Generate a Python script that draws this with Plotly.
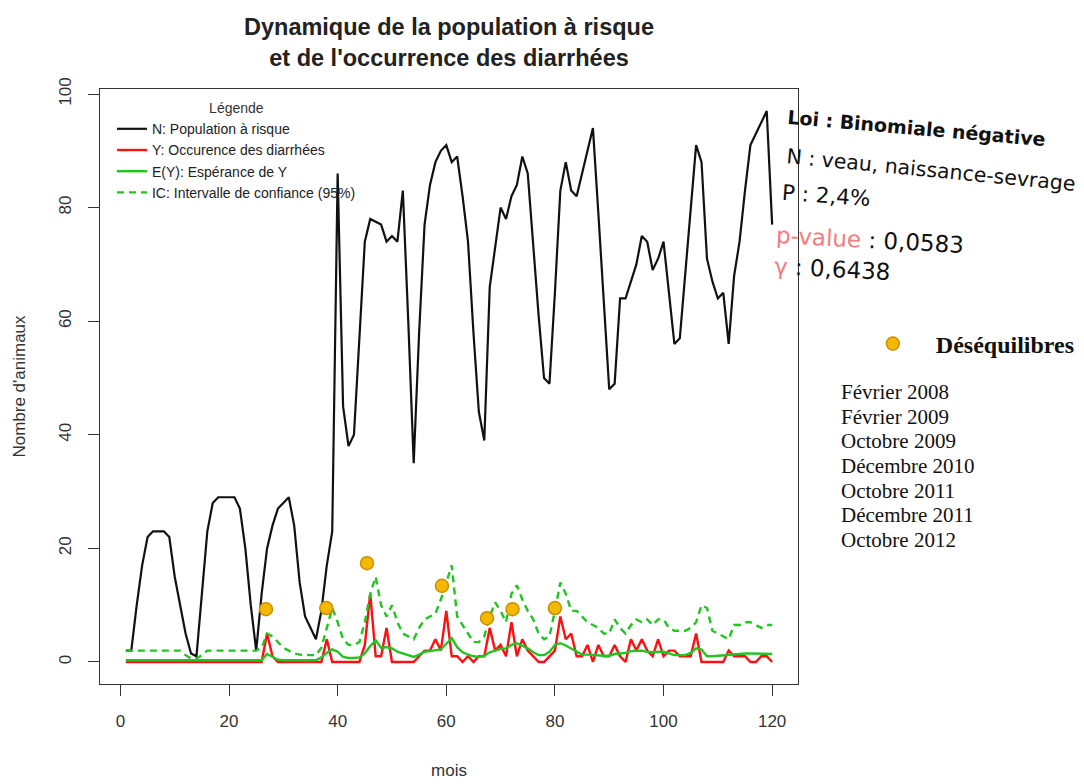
import plotly.graph_objects as go

months = list(range(1, 121))

N_pop = [2, 2, 10, 17, 22, 23, 23, 23, 22, 15,
         10, 5, 1.5, 1, 12, 23, 28, 29, 29, 29,
         29, 27, 20, 10, 2, 12, 20, 24, 27, 28,
         29, 24, 14, 8, 6, 4, 9, 17, 23, 86,
         45, 38, 40, 58, 74, 78, 77.5, 77, 74, 75,
         74, 83, 60, 35, 58, 77, 84, 88, 90, 91,
         88, 89, 82, 74, 58, 44, 39, 66, 73, 80,
         78, 82, 84, 89, 86, 73, 61, 50, 49, 65,
         83, 88, 83, 82, 86, 90, 94, 79, 63, 48,
         49, 64, 64, 67, 70, 75, 74, 69, 71, 74,
         65, 56, 57, 68, 79, 91, 88, 71, 67, 64,
         65, 56, 68, 74, 83, 91, 93, 95, 97, 77]

Y_occ = [0] * 26 + [
         5, 1, 0, 0, 0, 0, 0, 0, 0, 0,
         0, 4, 0, 0, 0, 0, 0, 0, 3, 12,
         1, 1, 6, 0, 0, 0, 0, 0, 1, 2,
         2, 4, 2, 9, 1, 1, 0, 1, 0, 1,
         1, 6, 2, 3, 1, 7, 1, 4, 2, 1,
         0, 0, 1, 2, 8, 4, 5, 1, 1, 3,
         0, 3, 1, 1, 3, 1, 0, 4, 2, 4,
         2, 1, 4, 1, 2, 2, 1, 1, 1, 5,
         0, 0, 0, 0, 0, 2, 1, 1, 1, 0,
         0, 1, 1, 0]

E_Y = [0.3] * 26 + [
       1.4, 0.9, 0.4, 0.3, 0.3, 0.3, 0.3, 0.3, 0.3, 0.3,
       0.8, 1.6, 2.2, 1.8, 0.9, 0.7, 0.7, 0.8, 1.5, 2.8,
       3.8, 2.5, 2.6, 2.4, 1.8, 1.5, 1.1, 0.9, 1.3, 1.8,
       1.9, 2.1, 2.2, 3.2, 4.2, 2.6, 1.7, 1.3, 1.0, 0.9,
       1.1, 1.7, 2.0, 2.3, 2.4, 3.0, 3.3, 2.8, 2.4, 1.7,
       1.2, 1.2, 1.8, 3.0, 3.3, 2.9, 2.4, 1.9, 1.3, 1.3,
       1.2, 1.1, 1.1, 1.1, 1.4, 1.5, 1.6, 1.9, 2.0, 2.0,
       1.8, 1.7, 1.8, 1.8, 1.5, 1.2, 1.2, 1.2, 1.6, 2.4,
       2.2, 1.0, 1.0, 1.1, 1.2, 1.3, 1.4, 1.5, 1.5, 1.5,
       1.5, 1.5, 1.5, 1.4]

IC_up = [2, 2, 2, 2, 2, 2, 2, 2, 2, 2,
         2, 1.2, 0.6, 0.6, 1.2, 2, 2, 2, 2, 2,
         2, 2, 2, 2, 2, 2.5, 5, 4.5, 3.5, 2.5,
         2, 1.5, 1.3, 1.2, 1.2, 1.2, 2.5, 6, 9.5, 7,
         4, 3, 3, 3.5, 7, 12, 15, 10, 8, 10,
         7, 5, 4.5, 4, 6, 7.5, 8, 8.5, 11, 14,
         17, 8, 6.5, 5, 3.5, 3.5, 4.5, 8, 10.5, 9,
         7, 12, 13.5, 11, 9, 7.5, 5, 4, 4.5, 9,
         14, 12, 9, 9, 8, 7, 6.5, 6, 5, 5,
         7.5, 6, 5, 6.5, 7.5, 7, 7.5, 6.5, 7.5, 7.5,
         6, 5.5, 5.5, 5.5, 6, 7, 10, 9.5, 5.5, 5,
         4.5, 4, 6.5, 6.5, 7, 7, 6.5, 6, 6.5, 6.5]

deseq_x = [26.8, 37.9, 45.4, 59.2, 67.5, 72.2, 80.0]
deseq_y = [9.3, 9.5, 17.4, 13.4, 7.7, 9.3, 9.5]

deseq_labels = ["Février 2008", "Février 2009", "Octobre 2009", "Décembre 2010",
                "Octobre 2011", "Décembre 2011", "Octobre 2012"]

x_ticks = [0, 20, 40, 60, 80, 100, 120]
y_ticks = [0, 20, 40, 60, 80, 100]

GREEN = "#22C422"
RED = "#FF1010"
AX = "#333333"
SANS = "Liberation Sans, Arial, sans-serif"
SERIF = "Liberation Serif, Times New Roman, serif"
HAND = "DejaVu Sans, sans-serif"

# the page adds an 8px body margin around the figure
OFF = 8
FW, FH = 1084, 784
L, T, W, H = 100, 89, 700, 595  # plot box in page pixels

fig = go.Figure()
fig.add_trace(go.Scatter(x=months, y=N_pop, mode="lines", name="N: Population à risque",
                         line=dict(color="#111111", width=2.2)))
fig.add_trace(go.Scatter(x=months, y=Y_occ, mode="lines", name="Y: Occurence des diarrhées",
                         line=dict(color=RED, width=2.4)))
fig.add_trace(go.Scatter(x=months, y=E_Y, mode="lines", name="E(Y): Espérance de Y",
                         line=dict(color=GREEN, width=2.4)))
fig.add_trace(go.Scatter(x=months, y=IC_up, mode="lines", name="IC: Intervalle de confiance (95%)",
                         line=dict(color=GREEN, width=2.4, dash="7px,5px")))
fig.add_trace(go.Scatter(x=deseq_x, y=deseq_y, mode="markers", name="<b>Déséquilibres</b>",
                         legend="legend2",
                         marker=dict(color="#F5B800", size=13, line=dict(color="#C89000", width=1.5))))


def px(xp):
    return (xp - L) / W


def py(yp):
    return (T + H - yp) / H


annotations = [
    dict(text="<b>Loi : Binomiale négative</b>", x=px(919), y=py(128), textangle=5,
         font=dict(family=HAND, size=19, color="#111")),
    dict(text="N : veau, naissance-sevrage", x=px(933), y=py(170), textangle=5.5,
         font=dict(family=HAND, size=20.5, color="#111")),
    dict(text="P : 2,4%", x=px(829), y=py(195), textangle=4,
         font=dict(family=HAND, size=21.5, color="#111")),
    dict(text="<span style='color:#F47C7C'>p-value</span> : 0,0583", x=px(872), y=py(240), textangle=3,
         font=dict(family=HAND, size=23, color="#111")),
    dict(text="<span style='color:#F47C7C'>γ</span> : 0,6438", x=px(834), y=py(269), textangle=3,
         font=dict(family=HAND, size=23, color="#111")),
]
for i, lab in enumerate(deseq_labels):
    annotations.append(dict(text=lab, x=px(841), y=py(392 + i * 24.67), xanchor="left",
                            font=dict(family=SERIF, size=21, color="#111")))
for a in annotations:
    a.setdefault("xref", "paper")
    a.setdefault("yref", "paper")
    a.setdefault("showarrow", False)
    a.setdefault("xanchor", "center")
    a.setdefault("yanchor", "middle")

fig.update_layout(
    width=FW, height=FH,
    margin=dict(l=L - OFF, r=FW - (L - OFF) - W, t=T - OFF, b=FH - (T - OFF) - H),
    paper_bgcolor="white", plot_bgcolor="white",
    title=dict(text="<b>Dynamique de la population à risque<br>et de l'occurrence des diarrhées</b>",
               xref="paper", x=0.5, xanchor="center",
               yref="container", y=1 - 27 / FH, yanchor="middle",
               font=dict(family=SANS, size=23.5, color="#222")),
    xaxis=dict(range=[-3.76, 124.76], tickvals=x_ticks, showgrid=False, zeroline=False,
               showline=True, mirror=True, linecolor=AX, linewidth=1.3, automargin=False,
               ticks="outside", ticklen=11, tickwidth=1.3, tickcolor=AX,
               ticklabelstandoff=10,
               tickfont=dict(family=SANS, size=17, color=AX),
               title=dict(text="mois", font=dict(family=SANS, size=17, color=AX), standoff=34)),
    yaxis=dict(range=[-3.88, 100.88], tickvals=y_ticks, showgrid=False, zeroline=False,
               showline=True, mirror=True, linecolor=AX, linewidth=1.3, automargin=False,
               ticks="outside", ticklen=11, tickwidth=1.3, tickcolor=AX, tickangle=-90,
               ticklabelstandoff=10,
               tickfont=dict(family=SANS, size=17, color=AX),
               title=dict(text="Nombre d'animaux", font=dict(family=SANS, size=17, color=AX), standoff=26)),
    legend=dict(x=px(112), y=1 - 6 / H, xanchor="left", yanchor="top",
                bgcolor="rgba(0,0,0,0)", borderwidth=0,
                title=dict(text="Légende", side="top center", font=dict(family=SANS, size=14, color="#333")),
                font=dict(family=SANS, size=14, color="#222"), tracegroupgap=0),
    legend2=dict(x=px(852), y=py(344), xanchor="left", yanchor="middle", itemwidth=76,
                 bgcolor="rgba(0,0,0,0)", borderwidth=0,
                 font=dict(family=SERIF, size=24, color="#111")),
    annotations=annotations,
    showlegend=True,
)

fig.write_html("out.html")
